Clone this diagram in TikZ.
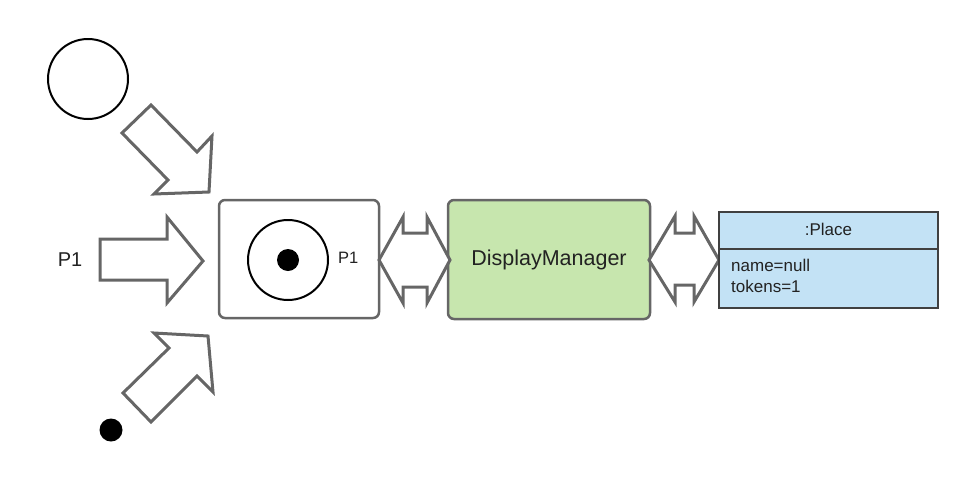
\documentclass[tikz,border=0pt]{standalone}
\usepackage{fontspec}
\setmainfont{Liberation Sans}
\definecolor{strokegray}{HTML}{666666}
\definecolor{dmgreen}{HTML}{C7E6AE}
\definecolor{placeblue}{HTML}{C3E2F5}
\definecolor{txt}{HTML}{222222}
\begin{document}
\begin{tikzpicture}[x=1pt,y=-1pt,
  blockarrow/.style={draw=strokegray,line width=3pt,fill=white,line join=miter},
  placecircle/.style={circle,draw=black,line width=2pt,fill=white,inner sep=0pt,minimum size=80pt},
  token/.style={circle,fill=black,inner sep=0pt,minimum size=22pt},
  box/.style={draw=strokegray,line width=2.5pt,rounded corners=6pt,inner sep=0pt},
  lbl/.style={text=txt,inner sep=0pt}
]
\useasboundingbox (0,0) rectangle (979,485);
% source place and token
\node[placecircle] (emptyplace) at (88,79) {};
\node[token,minimum size=23pt] (freetoken) at (111,430) {};
\node[lbl,font=\fontsize{20}{24}\selectfont] (p1left) at (70,260) {P1};
% place box
\node[box,fill=white,minimum width=160pt,minimum height=118pt] (placebox) at (299,259) {};
\node[placecircle] (p1circle) at (288,260) {};
\node[token] (p1token) at (288,260) {};
\node[lbl,font=\fontsize{16.5}{19}\selectfont,anchor=west] (p1label) at (338,258) {P1};
% display manager
\node[box,fill=dmgreen,minimum width=202pt,minimum height=119pt,text=txt,font=\fontsize{21.5}{25}\selectfont] (dm) at (549,259.5) {DisplayManager};
% block arrows into the place box
\draw[blockarrow] (151,105) -- (122,133) -- (168,180) -- (154,194) -- (209,192) -- (212,136) -- (197,152) -- cycle;
\draw[blockarrow] (100,239) -- (167,239) -- (167,217) -- (203,261) -- (167,303) -- (167,280) -- (100,280) -- cycle;
\draw[blockarrow] (154,333) -- (208,336) -- (213,392) -- (197,376) -- (151,422) -- (123,393) -- (169,348) -- cycle;
% double arrows
\draw[blockarrow] (379,260) -- (403,217) -- (403,233) -- (427,233) -- (427,217) -- (450,260) -- (427,303) -- (427,287) -- (403,287) -- (403,303) -- cycle;
\draw[blockarrow] (649,260) -- (675,216) -- (675,233) -- (694,233) -- (694,216) -- (719,260) -- (694,302) -- (694,285) -- (675,285) -- (675,302) -- cycle;
% Place object
\draw[draw=black!75,line width=2pt,fill=placeblue] (719,212) rectangle (938,308);
\draw[draw=black!75,line width=2pt] (719,249) -- (938,249);
\node[lbl,font=\fontsize{17}{20}\selectfont] (placetitle) at (828.5,229) {:Place};
\node[lbl,font=\fontsize{17}{21}\selectfont,anchor=north west,align=left] (placeattrs) at (731,259) {name=null\\tokens=1};
\end{tikzpicture}
\end{document}
